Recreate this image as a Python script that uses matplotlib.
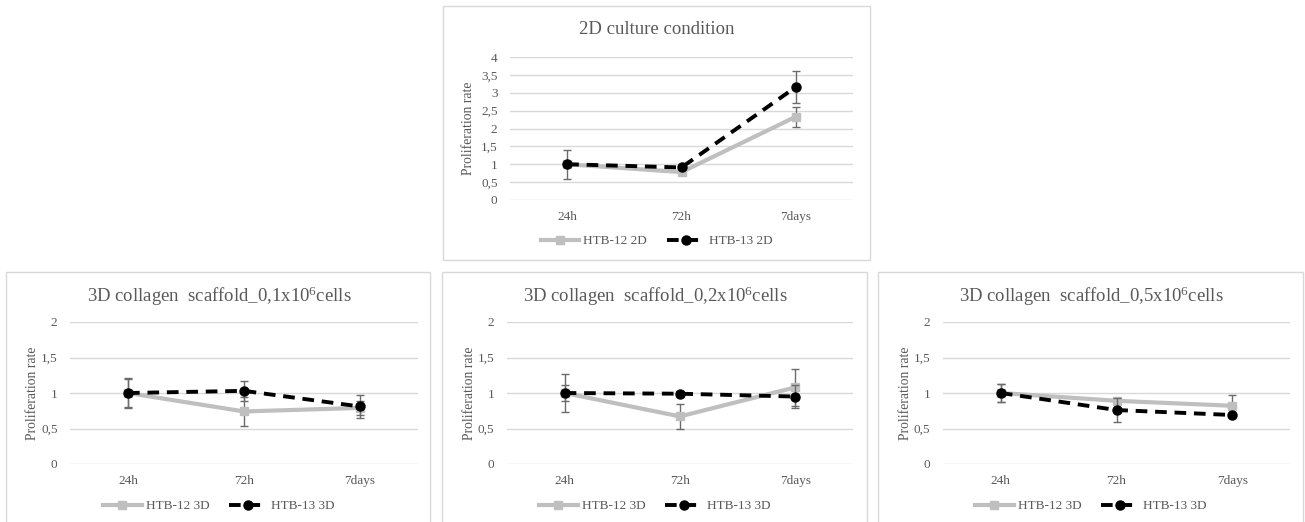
import matplotlib
matplotlib.use('Agg')
import matplotlib.pyplot as plt
from matplotlib.patches import Rectangle
from matplotlib.lines import Line2D

# ---------------- data ----------------
categories = ['24h', '72h', '7days']

top_title = '2D culture condition'
top_htb12 = [1.0, 0.78, 2.33]
top_htb12_err = [0.08, 0.04, 0.28]
top_htb13 = [1.0, 0.91, 3.16]
top_htb13_err = [0.41, 0.04, 0.45]
top_yticks = [0, 0.5, 1, 1.5, 2, 2.5, 3, 3.5, 4]
top_labels = ['HTB-12 2D', 'HTB-13 2D']

bottom_titles = ['3D collagen  scaffold_0,1x10$^{6}$cells',
                 '3D collagen  scaffold_0,2x10$^{6}$cells',
                 '3D collagen  scaffold_0,5x10$^{6}$cells']
p1_htb12 = [1.0, 0.74, 0.79]
p1_htb12_err = [0.20, 0.20, 0.10]
p1_htb13 = [1.0, 1.03, 0.81]
p1_htb13_err = [0.21, 0.14, 0.16]
p2_htb12 = [1.0, 0.67, 1.08]
p2_htb12_err = [0.27, 0.17, 0.26]
p2_htb13 = [1.0, 0.99, 0.95]
p2_htb13_err = [0.11, 0.04, 0.16]
p3_htb12 = [1.0, 0.89, 0.82]
p3_htb12_err = [0.12, 0.03, 0.15]
p3_htb13 = [1.0, 0.76, 0.69]
p3_htb13_err = [0.12, 0.17, 0.03]
bottom_yticks = [0, 0.5, 1, 1.5, 2]
bottom_labels = ['HTB-12 3D', 'HTB-13 3D']

# ---------------- style ----------------
plt.rcParams['font.family'] = ['Liberation Serif', 'DejaVu Serif']
plt.rcParams['mathtext.fontset'] = 'custom'
plt.rcParams['mathtext.rm'] = 'Liberation Serif'
plt.rcParams['mathtext.it'] = 'Liberation Serif:italic'
TXT = '#595959'
GREY = '#BFBFBF'
GRID = '#D9D9D9'
ERR = '#6b6b6b'

W, H = 1305, 522
fig = plt.figure(figsize=(W / 100, H / 100), dpi=100)


def px_axes(left, top, right, bottom):
    return fig.add_axes([left / W, 1 - bottom / H, (right - left) / W, (bottom - top) / H])


def fmt(v):
    return ('%g' % v).replace('.', ',')


def draw_panel(ax, s12, e12, s13, e13, yticks, ylab_x, labels, leg_xy):
    x = list(range(len(categories)))
    ax.errorbar(x, s12, yerr=e12, color=GREY, lw=3, marker='s', ms=6,
                mfc=GREY, mec=GREY, ecolor=ERR, elinewidth=1, capsize=3,
                capthick=1, zorder=3, label=labels[0])
    ax.errorbar(x, s13, yerr=e13, color='black', lw=2.8, ls=(0, (3, 2)),
                marker='o', ms=6.5, mfc='black', mec='black', ecolor=ERR,
                elinewidth=1, capsize=3, capthick=1, zorder=4, label=labels[1])
    ax.set_xlim(-0.5, len(categories) - 0.5)
    ax.set_ylim(yticks[0], yticks[-1])
    ax.set_xticks(x)
    ax.set_xticklabels(categories)
    ax.set_yticks(yticks)
    ax.set_yticklabels([fmt(v) for v in yticks])
    ax.tick_params(axis='both', length=0, labelsize=9.5, labelcolor=TXT)
    ax.tick_params(axis='y', pad=9)
    ax.tick_params(axis='x', pad=8)
    for s in ax.spines.values():
        s.set_visible(False)
    ax.yaxis.grid(True, color=GRID, lw=1)
    ax.set_axisbelow(True)
    ax.set_ylabel('Proliferation rate', fontsize=9.8, color=TXT)
    ax.yaxis.set_label_coords(ylab_x, 0.5)
    handles = [Line2D([], [], color=GREY, lw=3, marker='s', ms=6, mfc=GREY, mec=GREY),
               Line2D([], [], color='black', lw=2.8, ls=(0, (3, 2)), marker='o', ms=6.5)]
    fig.legend(handles, labels, loc='center',
               bbox_to_anchor=(leg_xy[0] / W, 1 - leg_xy[1] / H),
               ncol=2, frameon=False, fontsize=9.5, labelcolor=TXT,
               handlelength=2.9, columnspacing=1.5, handletextpad=0.3)


# panel frames
frames = [(443, 6, 870, 260), (6, 272, 430, 530), (442, 272, 867, 530), (878, 272, 1303, 530)]
for (l, t, r, b) in frames:
    fig.patches.append(Rectangle((l / W, 1 - b / H), (r - l) / W, (b - t) / H,
                                 transform=fig.transFigure, fill=False,
                                 edgecolor=GRID, lw=1))

# top panel
ax = px_axes(510, 57, 853, 200)
draw_panel(ax, top_htb12, top_htb12_err, top_htb13, top_htb13_err,
           top_yticks, -0.102, top_labels, (657, 241))
fig.text(657 / W, 1 - 30 / H, top_title, ha='center', va='center', fontsize=13.5, color=TXT)

# bottom panels
bottom_series = [(p1_htb12, p1_htb12_err, p1_htb13, p1_htb13_err),
                 (p2_htb12, p2_htb12_err, p2_htb13, p2_htb13_err),
                 (p3_htb12, p3_htb12_err, p3_htb13, p3_htb13_err)]
bottom_boxes = [(70, 418), (507, 853), (943, 1290)]
centers = [219, 655, 1091]
for (l, r), ser, title, cx in zip(bottom_boxes, bottom_series, bottom_titles, centers):
    ax = px_axes(l, 322, r, 464)
    draw_panel(ax, ser[0], ser[1], ser[2], ser[3], bottom_yticks, -0.089,
               bottom_labels, (cx, 506))
    fig.text(cx / W, 1 - 296 / H, title, ha='center', va='center', fontsize=13.5, color=TXT)

fig.savefig('out.png', dpi=100, facecolor='white')
